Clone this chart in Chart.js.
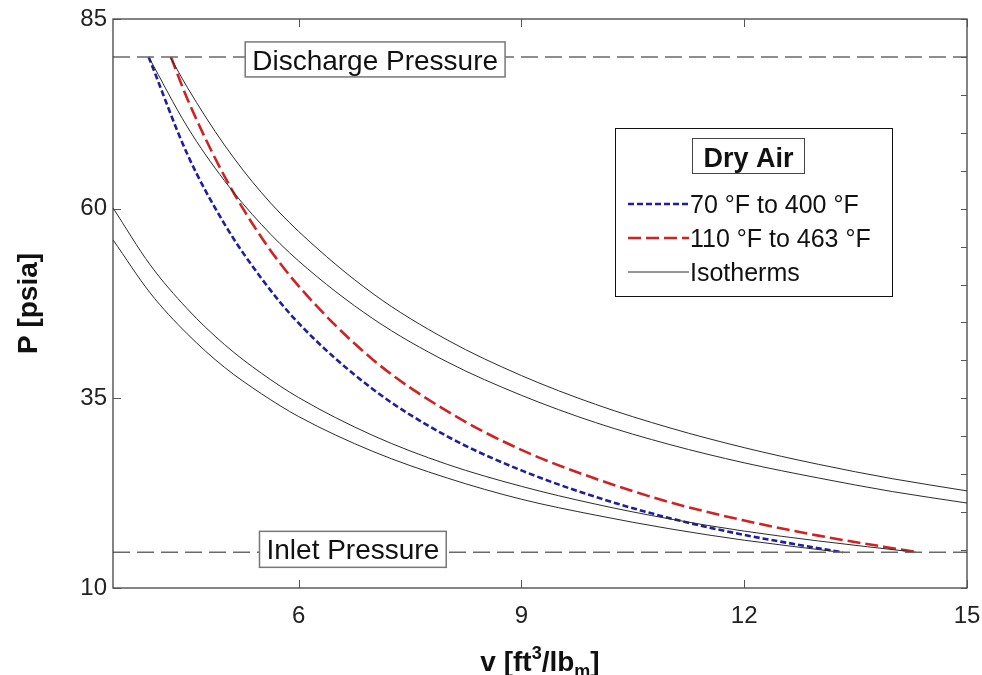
<!DOCTYPE html>
<html>
<head>
<meta charset="utf-8">
<script src="https://cdn.jsdelivr.net/npm/chart.js@4.4.0/dist/chart.umd.min.js"></script>
<style>
  html, body { margin: 0; padding: 0; background: #fff; }
  #wrap { width: 982px; height: 675px; }
</style>
</head>
<body>
<div id="wrap"><canvas id="pvChart" width="982" height="675"></canvas></div>
<script>
// tick values
const vTicks = [6, 9, 12, 15];
const pTicks = [10, 35, 60, 85];
const pMinorTicks = [15, 20, 25, 30, 40, 45, 50, 55, 65, 70, 75, 80];

// reference pressures (psia)
const dischargeP = 80;
const inletP = 14.7;

// isotherms
const iso70V = [3.5, 4, 4.5, 5, 5.5, 6, 7, 8, 9, 10, 11, 12, 13.31];
const iso70P = [55.9, 48.9, 43.5, 39.1, 35.6, 32.6, 28.0, 24.5, 21.7, 19.6, 17.8, 16.3, 14.7];

const iso110V = [3.5, 4, 4.5, 5, 5.5, 6, 7, 8, 9, 10, 11, 12, 13, 14.32];
const iso110P = [60.1, 52.6, 46.8, 42.1, 38.3, 35.1, 30.1, 26.3, 23.4, 21.05, 19.1, 17.5, 16.2, 14.7];

const iso400V = [3.98, 4.5, 5, 5.5, 6, 7, 8, 9, 10, 11, 12, 13, 14, 15];
const iso400P = [80, 70.8, 63.7, 57.9, 53.1, 45.5, 39.8, 35.4, 31.8, 28.9, 26.5, 24.5, 22.7, 21.2];

const iso463V = [4.27, 4.5, 5, 5.5, 6, 7, 8, 9, 10, 11, 12, 13, 14, 15];
const iso463P = [80, 76.0, 68.4, 62.1, 57.0, 48.8, 42.7, 38.0, 34.2, 31.1, 28.5, 26.3, 24.4, 22.8];

// compression paths
const blueV = [3.98, 4.5, 5, 5.5, 6, 7, 8, 9, 10, 11, 12, 13.33];
const blueP = [80, 67.2, 58.0, 50.8, 44.9, 36.2, 30.0, 25.5, 22.0, 19.2, 17.0, 14.7];

const redV = [4.28, 4.5, 5, 5.5, 6, 7, 8, 9, 10, 11, 12, 13, 14.34];
const redP = [80, 74.5, 64.3, 56.2, 49.8, 40.1, 33.3, 28.2, 24.4, 21.3, 18.9, 16.9, 14.7];

const FONT = '"Liberation Sans", Arial, sans-serif';
const BLUE = '#1e1e9e';
const RED = '#cf2323';
const ISO = '#2a2a2a';

function pts(xs, ys) {
  return xs.map((x, i) => ({ x: x, y: ys[i] }));
}

function curve(xs, ys, color, width, dash) {
  return {
    data: pts(xs, ys),
    borderColor: color,
    borderWidth: width,
    borderDash: dash,
    showLine: true,
    pointRadius: 0,
    cubicInterpolationMode: 'monotone',
    fill: false
  };
}

const refLine = p => ({
  data: [{ x: 3.5, y: p }, { x: 15, y: p }],
  borderColor: '#6a6a6a',
  borderWidth: 1.5,
  borderDash: [17, 7],
  showLine: true,
  pointRadius: 0
});

const decorPlugin = {
  id: 'decor',
  afterDatasetsDraw(chart) {
    const ctx = chart.ctx;
    const a = chart.chartArea;
    const xs = chart.scales.x, ys = chart.scales.y;
    ctx.save();

    // frame
    ctx.strokeStyle = '#333';
    ctx.lineWidth = 1.2;
    ctx.strokeRect(a.left, a.top, a.right - a.left, a.bottom - a.top);

    // inward ticks
    ctx.strokeStyle = '#555';
    ctx.lineWidth = 1;
    ctx.beginPath();
    vTicks.forEach(v => {
      const px = Math.round(xs.getPixelForValue(v)) + 0.5;
      ctx.moveTo(px, a.bottom); ctx.lineTo(px, a.bottom - 8);
      ctx.moveTo(px, a.top); ctx.lineTo(px, a.top + 8);
    });
    pTicks.forEach(p => {
      const py = Math.round(ys.getPixelForValue(p)) + 0.5;
      ctx.moveTo(a.left, py); ctx.lineTo(a.left + 8, py);
    });
    pMinorTicks.concat(pTicks).forEach(p => {
      const py = Math.round(ys.getPixelForValue(p)) + 0.5;
      ctx.moveTo(a.right, py); ctx.lineTo(a.right - 6, py);
    });
    ctx.stroke();

    // reference line labels
    const boxLabel = (text, v, p, up, down, base) => {
      ctx.font = '28px ' + FONT;
      const w = ctx.measureText(text).width;
      const cx = xs.getPixelForValue(v);
      const ly = ys.getPixelForValue(p);
      const x0 = cx - w / 2 - 7;
      ctx.fillStyle = '#fff';
      ctx.fillRect(x0, ly - up, w + 14, up + down);
      ctx.strokeStyle = '#777';
      ctx.lineWidth = 1.5;
      ctx.strokeRect(x0, ly - up, w + 14, up + down);
      ctx.fillStyle = '#111';
      ctx.textAlign = 'center';
      ctx.textBaseline = 'alphabetic';
      ctx.fillText(text, cx, ly + base);
    };
    boxLabel('Discharge Pressure', 7.03, dischargeP, 15, 20, 13);
    boxLabel('Inlet Pressure', 6.73, inletP, 21, 15, 7);

    // legend
    ctx.fillStyle = '#fff';
    ctx.fillRect(615, 128, 277, 168);
    ctx.strokeStyle = '#111';
    ctx.lineWidth = 1;
    ctx.strokeRect(615.5, 128.5, 277, 168);
    ctx.strokeStyle = '#444';
    ctx.strokeRect(692.5, 138.5, 112, 35);
    ctx.fillStyle = '#111';
    ctx.font = 'bold 27px ' + FONT;
    ctx.textAlign = 'center';
    ctx.fillText('Dry Air', 748.5, 167);

    const entries = [
      { label: '70 °F to 400 °F', color: BLUE, width: 2.6, dash: [6, 3], y: 204 },
      { label: '110 °F to 463 °F', color: RED, width: 2.6, dash: [13, 5], y: 238 },
      { label: 'Isotherms', color: ISO, width: 1, dash: [], y: 272 }
    ];
    entries.forEach(e => {
      ctx.strokeStyle = e.color;
      ctx.lineWidth = e.width;
      ctx.setLineDash(e.dash);
      ctx.beginPath();
      ctx.moveTo(628, e.y); ctx.lineTo(689, e.y);
      ctx.stroke();
      ctx.setLineDash([]);
      ctx.fillStyle = '#111';
      ctx.font = '25px ' + FONT;
      ctx.textAlign = 'left';
      ctx.fillText(e.label, 690, e.y + 9);
    });

    // x axis title: v [ft^3/lb_m]
    const big = 'bold 28px ' + FONT, small = 'bold 18px ' + FONT;
    const parts = [
      { t: 'v [ft', f: big, dy: 0 },
      { t: '3', f: small, dy: -12 },
      { t: '/lb', f: big, dy: 0 },
      { t: 'm', f: small, dy: 6 },
      { t: ']', f: big, dy: 0 }
    ];
    let total = 0;
    parts.forEach(p => { ctx.font = p.f; p.w = ctx.measureText(p.t).width; total += p.w; });
    let x = (a.left + a.right) / 2 - total / 2;
    ctx.textAlign = 'left';
    ctx.textBaseline = 'alphabetic';
    parts.forEach(p => {
      ctx.font = p.f;
      ctx.fillText(p.t, x, 671 + p.dy);
      x += p.w;
    });

    // y axis title
    ctx.save();
    ctx.translate(37, (a.top + a.bottom) / 2);
    ctx.rotate(-Math.PI / 2);
    ctx.font = 'bold 28px ' + FONT;
    ctx.textAlign = 'center';
    ctx.fillText('P [psia]', 0, 0);
    ctx.restore();

    ctx.restore();
  }
};

new Chart(document.getElementById('pvChart'), {
  type: 'scatter',
  data: {
    datasets: [
      refLine(dischargeP),
      refLine(inletP),
      curve(iso70V, iso70P, ISO, 1, []),
      curve(iso110V, iso110P, ISO, 1, []),
      curve(iso400V, iso400P, ISO, 1, []),
      curve(iso463V, iso463P, ISO, 1, []),
      curve(blueV, blueP, BLUE, 2.6, [6, 3]),
      curve(redV, redP, RED, 2.6, [13, 5])
    ]
  },
  options: {
    responsive: false,
    animation: false,
    layout: { padding: { top: 19, right: 15, left: 0, bottom: 0 } },
    plugins: { legend: { display: false }, tooltip: { enabled: false } },
    scales: {
      x: {
        type: 'linear',
        min: 3.5,
        max: 15,
        grid: { display: false, drawTicks: false },
        border: { display: false },
        afterBuildTicks: s => { s.ticks = vTicks.map(v => ({ value: v })); },
        afterFit: s => { s.height = 87; s.paddingLeft = 0; s.paddingRight = 0; },
        ticks: { color: '#222', font: { family: FONT, size: 24 }, padding: 14, maxRotation: 0 }
      },
      y: {
        type: 'linear',
        min: 10,
        max: 85,
        grid: { display: false, drawTicks: false },
        border: { display: false },
        afterBuildTicks: s => { s.ticks = pTicks.map(v => ({ value: v })); },
        afterFit: s => { s.width = 113; s.paddingTop = 0; s.paddingBottom = 0; },
        ticks: { color: '#222', font: { family: FONT, size: 24 }, padding: 6 }
      }
    }
  },
  plugins: [decorPlugin]
});
</script>
</body>
</html>
